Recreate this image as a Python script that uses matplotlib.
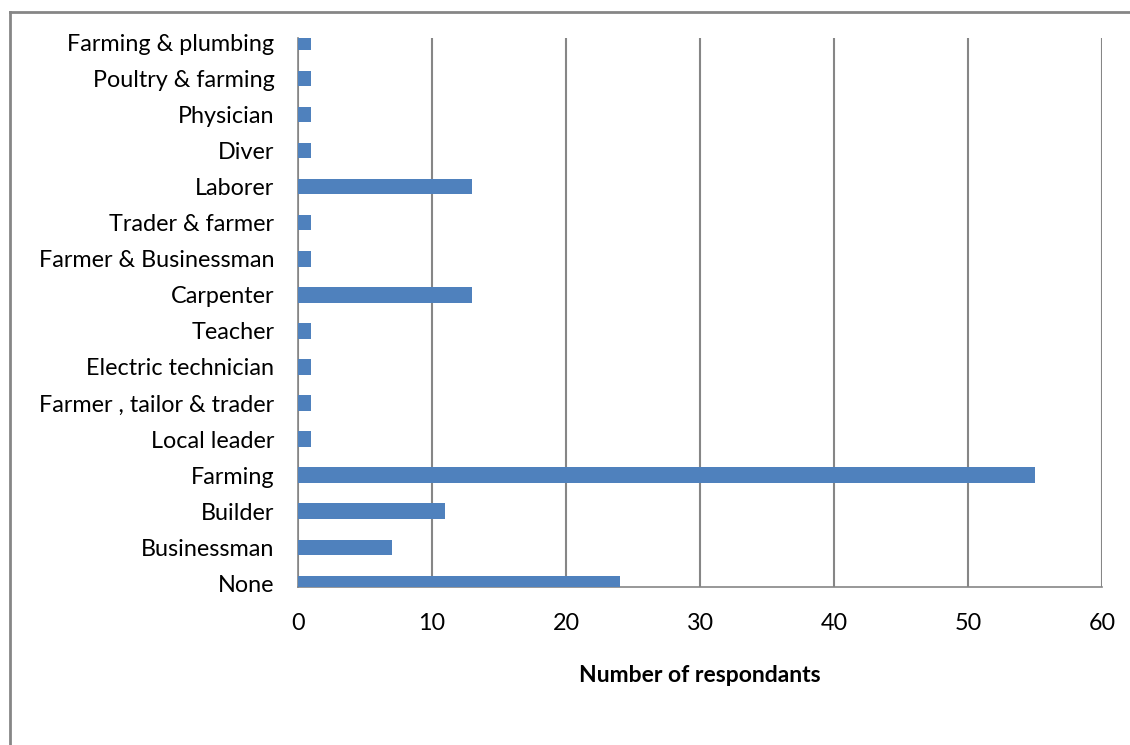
import matplotlib
matplotlib.use("Agg")
import matplotlib.pyplot as plt
from matplotlib.lines import Line2D

categories = ["None", "Businessman", "Builder", "Farming", "Local leader",
              "Farmer , tailor & trader", "Electric technician", "Teacher",
              "Carpenter", "Farmer & Businessman", "Trader & farmer", "Laborer",
              "Diver", "Physician", "Poultry & farming", "Farming & plumbing"]
values = [24, 7, 11, 55, 1, 1, 1, 1, 13, 1, 1, 13, 1, 1, 1, 1]
xticks = [0, 10, 20, 30, 40, 50, 60]

plt.rcParams['font.family'] = ['Lato', 'DejaVu Sans']

W, H = 1130, 745
fig = plt.figure(figsize=(W / 100, H / 100), dpi=100)
ax = fig.add_axes([298 / W, 1 - 587 / H, (1102 - 298) / W, (587 - 38) / H])

ypos = list(range(len(categories)))
ax.barh(ypos, values, height=0.43, color="#4F81BD", zorder=3)
ax.set_xlim(0, 60)
ax.set_ylim(-0.1, 15.12)
ax.set_xticks(xticks)
ax.set_yticks(ypos)
ax.set_yticklabels(categories)
ax.xaxis.grid(True, color="#868686", linewidth=1.5, zorder=1)
ax.set_axisbelow(True)
ax.tick_params(axis="both", length=0, labelsize=16.8, colors="black")
ax.tick_params(axis="y", pad=17)
ax.tick_params(axis="x", pad=19)
ax.spines["top"].set_visible(False)
ax.spines["right"].set_visible(False)
for s in ["left", "bottom"]:
    ax.spines[s].set_color("#868686")
    ax.spines[s].set_linewidth(1.2)
ax.set_xlabel("Number of respondants", fontsize=16.5, fontweight="bold", labelpad=22)

# figure border (left and top)
fig.add_artist(Line2D([10 / W, 10 / W], [0, 1 - 12 / H], transform=fig.transFigure,
                      color="#868686", linewidth=2))
fig.add_artist(Line2D([10 / W, 1], [1 - 12 / H, 1 - 12 / H], transform=fig.transFigure,
                      color="#868686", linewidth=2))

fig.savefig("out.png", dpi=100)
